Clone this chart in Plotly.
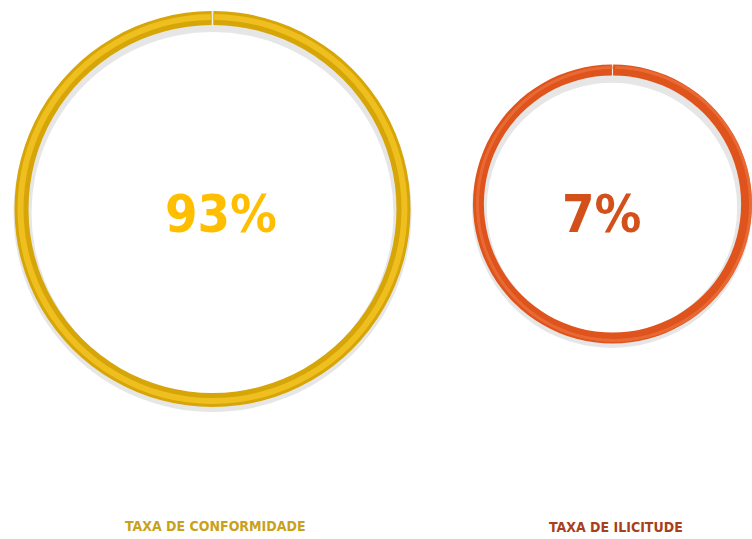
import plotly.graph_objects as go

# Data
categories = ["TAXA DE CONFORMIDADE", "TAXA DE ILICITUDE"]
rates = [93, 7]
ring_colors = ["#D6A507", "#DE541C"]
highlight_colors = ["rgba(245,200,40,0.75)", "rgba(240,120,70,0.6)"]
value_colors = ["#FFBF00", "#D4501A"]
label_colors = ["#C9A11A", "#A8401B"]

W, H = 752, 539
FONT = "DejaVu Sans Condensed, Liberation Sans Narrow, Roboto, sans-serif"

def px_x(x):
    return x / W

def px_y(y):
    return 1 - y / H

def dom(cx, cy, r):
    return dict(x=[max(0, px_x(cx - r)), min(1, px_x(cx + r))],
                y=[px_y(cy + r), px_y(cy - r)])

# ring geometry (pixels): center x, center y, outer radius, thickness
rings = [(212.5, 209, 198, 14), (614, 204, 141, 11)]
text_pos = [(221, 214), (601, 214)]
label_pos = [(215, 526), (616, 527)]

fig = go.Figure()
gap = 0.14
for i, (cx, cy, r, t) in enumerate(rings):
    # soft shadow
    fig.add_trace(go.Pie(
        values=[1], labels=["s"], hole=(r - t - 3) / (r + 1),
        marker=dict(colors=["rgba(140,140,140,0.22)"], line=dict(width=0)),
        domain=dom(cx, cy + 4, r + 1),
        textinfo="none", hoverinfo="skip", showlegend=False, sort=False,
    ))
    fig.add_trace(go.Pie(
        values=[gap, 100 - gap], labels=["gap", categories[i]],
        hole=(r - t) / r, sort=False, direction="clockwise",
        rotation=-gap * 3.6 / 2,
        marker=dict(colors=["#F4EFE0", ring_colors[i]], line=dict(width=0)),
        domain=dom(cx, cy, r),
        textinfo="none", hoverinfo="skip", showlegend=False,
    ))
    # highlight band for a slight 3D look
    ro = r - 3
    ri = r - t + 5
    fig.add_trace(go.Pie(
        values=[gap * 2, 100 - gap * 2], labels=["gap", "hl"],
        hole=ri / ro, sort=False, direction="clockwise",
        rotation=-gap * 2 * 3.6 / 2,
        marker=dict(colors=["rgba(0,0,0,0)", highlight_colors[i]], line=dict(width=0)),
        domain=dom(cx, cy, ro),
        textinfo="none", hoverinfo="skip", showlegend=False,
    ))
    fig.add_annotation(
        x=px_x(text_pos[i][0]), y=px_y(text_pos[i][1]), xref="paper", yref="paper",
        text=f"<b>{rates[i]}%</b>", showarrow=False,
        font=dict(family=FONT, size=52, color=value_colors[i]),
        xanchor="center", yanchor="middle",
    )
    fig.add_annotation(
        x=px_x(label_pos[i][0]), y=px_y(label_pos[i][1]), xref="paper", yref="paper",
        text=f"<b>{categories[i]}</b>", showarrow=False,
        font=dict(family=FONT, size=14, color=label_colors[i]),
        xanchor="center", yanchor="middle",
    )

fig.update_layout(
    width=W, height=H, margin=dict(l=0, r=0, t=0, b=0),
    paper_bgcolor="white", plot_bgcolor="white", showlegend=False,
)
fig.write_html(
    "out.html",
    config={"displayModeBar": False},
    post_script="document.body.style.margin='0';document.body.style.overflow='hidden';",
)
